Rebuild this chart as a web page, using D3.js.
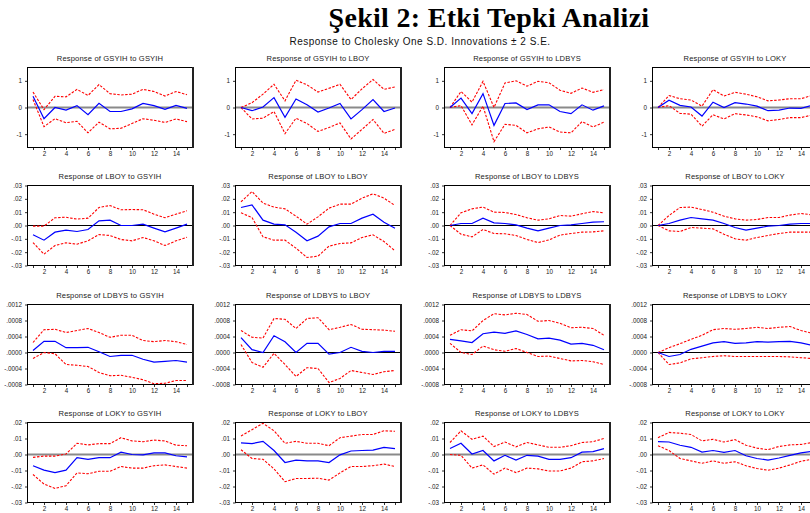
<!DOCTYPE html>
<html>
<head>
<meta charset="utf-8">
<script src="https://cdnjs.cloudflare.com/ajax/libs/d3/7.8.5/d3.min.js"></script>
<style>
  body { margin: 0; background: #fff; }
  svg { display: block; }
  .mainTitle { font-family: "Liberation Serif", "DejaVu Serif", serif; font-weight: bold; font-size: 28px; letter-spacing: 0.3px; fill: #000; }
  .subTitle { font-family: Arial, "Liberation Sans", sans-serif; font-size: 10px; letter-spacing: 0.5px; fill: #111; }
  .panelTitle { font-family: Arial, "Liberation Sans", sans-serif; font-size: 7.6px; letter-spacing: 0.15px; fill: #222; }
  .tick text { font-family: Arial, "Liberation Sans", sans-serif; font-size: 6.3px; fill: #222; }
</style>
</head>
<body>
<svg width="810" height="513"></svg>
<script>
const variables = ['GSYIH', 'LBOY', 'LDBYS', 'LOKY'];
const periods = [1, 2, 3, 4, 5, 6, 7, 8, 9, 10, 11, 12, 13, 14, 15];
const xTickLabels = [2, 4, 6, 8, 10, 12, 14];

// y ticks for each response row
const gsyihTicks = [-1, 0, 1];
const gsyihTickLabels = ['-1', '0', '1'];
const lboyTicks = [-0.03, -0.02, -0.01, 0, 0.01, 0.02, 0.03];
const lboyTickLabels = ['-.03', '-.02', '-.01', '.00', '.01', '.02', '.03'];
const ldbysTicks = [-0.0008, -0.0004, 0, 0.0004, 0.0008, 0.0012];
const ldbysTickLabels = ['-.0008', '-.0004', '.0000', '.0004', '.0008', '.0012'];
const lokyTicks = [-0.03, -0.02, -0.01, 0, 0.01, 0.02];
const lokyTickLabels = ['-.03', '-.02', '-.01', '.00', '.01', '.02'];

// Response of GSYIH to GSYIH, LBOY, LDBYS, LOKY
const gsyihResp = [
  [0.42, -0.42, 0.0, -0.1, 0.07, -0.27, 0.16, -0.15, -0.15, -0.05, 0.15, 0.07, -0.07, 0.08, -0.03],
  [0, -0.12, 0.02, 0.37, -0.37, 0.32, 0.1, -0.17, -0.02, 0.15, -0.43, -0.08, 0.3, -0.15, -0.02],
  [0, 0.35, -0.23, 0.52, -0.67, 0.15, 0.17, -0.08, 0.1, 0.1, -0.15, -0.23, 0.1, -0.1, 0.06],
  [0, 0.27, 0.08, 0.02, -0.32, 0.2, 0.0, 0.18, 0.13, 0.05, -0.12, -0.1, -0.02, -0.03, 0.08]
];
const gsyihUpper = [
  [0.58, -0.08, 0.42, 0.4, 0.68, 0.45, 0.86, 0.52, 0.47, 0.5, 0.68, 0.6, 0.43, 0.6, 0.48],
  [0, 0.18, 0.5, 0.87, 0.25, 1.02, 0.85, 0.58, 0.72, 0.87, 0.3, 0.7, 1.05, 0.68, 0.77],
  [0, 0.6, 0.2, 0.98, 0.0, 0.92, 1.0, 0.8, 0.98, 0.93, 0.65, 0.53, 0.73, 0.57, 0.67],
  [0, 0.45, 0.33, 0.28, 0.05, 0.67, 0.43, 0.57, 0.5, 0.4, 0.25, 0.28, 0.33, 0.33, 0.45]
];
const gsyihLower = [
  [0.3, -0.72, -0.42, -0.57, -0.52, -0.95, -0.55, -0.8, -0.78, -0.6, -0.42, -0.48, -0.56, -0.43, -0.53],
  [0, -0.43, -0.4, -0.15, -0.98, -0.4, -0.6, -0.9, -0.75, -0.58, -1.18, -0.82, -0.45, -0.97, -0.82],
  [0, 0.07, -0.65, 0.05, -1.28, -0.63, -0.67, -0.95, -0.8, -0.73, -0.92, -0.95, -0.53, -0.73, -0.55],
  [0, 0.07, -0.22, -0.25, -0.7, -0.27, -0.43, -0.23, -0.28, -0.35, -0.5, -0.45, -0.38, -0.38, -0.28]
];

// Response of LBOY
const lboyResp = [
  [-0.007, -0.011, -0.005, -0.0035, -0.0045, -0.003, 0.0035, 0.004, 0.0, 0.0, 0.001, -0.002, -0.0048, -0.002, 0.001],
  [0.0135, 0.0155, 0.004, 0.001, 0.0005, -0.005, -0.0115, -0.008, -0.001, 0.0015, 0.0015, 0.0055, 0.0085, 0.0025, -0.002],
  [0, 0.0015, 0.0015, 0.0055, 0.002, 0.0015, 0.0005, -0.002, -0.004, -0.002, 0.0, 0.0005, 0.0015, 0.0025, 0.0028],
  [0, 0.0015, 0.004, 0.006, 0.005, 0.004, 0.0015, -0.0015, -0.0035, -0.002, -0.0005, 0.0, 0.001, 0.0015, 0.0015]
];
const lboyUpper = [
  [-0.0005, -0.0005, 0.0058, 0.0062, 0.0048, 0.0055, 0.0135, 0.015, 0.0118, 0.012, 0.0118, 0.0085, 0.0058, 0.0085, 0.011],
  [0.0178, 0.0255, 0.0168, 0.0138, 0.0125, 0.007, 0.001, 0.0065, 0.013, 0.016, 0.016, 0.0205, 0.0238, 0.0205, 0.015],
  [0, 0.0095, 0.0125, 0.0138, 0.01, 0.0098, 0.0082, 0.0058, 0.004, 0.005, 0.0075, 0.007, 0.0088, 0.0105, 0.0095],
  [0, 0.0075, 0.0135, 0.0138, 0.012, 0.01, 0.007, 0.005, 0.004, 0.0045, 0.006, 0.006, 0.0078, 0.009, 0.008]
];
const lboyLower = [
  [-0.0128, -0.0215, -0.015, -0.013, -0.014, -0.0115, -0.0068, -0.0075, -0.0105, -0.0115, -0.009, -0.0115, -0.015, -0.0115, -0.0088],
  [0.0095, 0.006, -0.0085, -0.011, -0.011, -0.017, -0.024, -0.023, -0.0155, -0.0135, -0.013, -0.009, -0.007, -0.012, -0.019],
  [0, -0.0065, -0.0085, -0.003, -0.006, -0.0062, -0.0075, -0.0105, -0.0128, -0.0108, -0.0072, -0.006, -0.005, -0.0048, -0.004],
  [0, -0.004, -0.0045, -0.0015, -0.002, -0.0025, -0.0065, -0.01, -0.011, -0.009, -0.0075, -0.006, -0.005, -0.005, -0.005]
];

// Response of LDBYS
const ldbysResp = [
  [0.00005, 0.00028, 0.00028, 0.00012, 0.00012, 0.00013, 0.00002, -0.0001, -0.00007, -0.00007, -0.00017, -0.00024, -0.00022, -0.0002, -0.00024],
  [0.00037, 0.00007, 0.0, 0.00042, 0.00027, 0.0, 0.00023, 0.00023, -0.00004, 0.0, 0.00013, 0.00003, 0.0, 0.00003, 0.00003],
  [0.00033, 0.00029, 0.00025, 0.00047, 0.00051, 0.00048, 0.00054, 0.00045, 0.00034, 0.00036, 0.00031, 0.00021, 0.00023, 0.00018, 0.00007],
  [0, -0.0001, -0.00005, 0.00008, 0.00016, 0.00024, 0.00027, 0.00023, 0.00024, 0.00027, 0.00026, 0.00027, 0.00028, 0.00024, 0.00018]
];
const ldbysUpper = [
  [0.00025, 0.00057, 0.00058, 0.0005, 0.00055, 0.0006, 0.0005, 0.00038, 0.00043, 0.00043, 0.0003, 0.00027, 0.0003, 0.00027, 0.0002],
  [0.00055, 0.00038, 0.00036, 0.00085, 0.00083, 0.0006, 0.00085, 0.00087, 0.00057, 0.00063, 0.0007, 0.00058, 0.00057, 0.00056, 0.00053],
  [0.00043, 0.00057, 0.00054, 0.0008, 0.00097, 0.00094, 0.00098, 0.00095, 0.00078, 0.0008, 0.00073, 0.00062, 0.00063, 0.0006, 0.00043],
  [0, 0.00012, 0.00022, 0.00033, 0.00043, 0.00057, 0.0006, 0.00058, 0.0006, 0.00063, 0.0006, 0.00063, 0.00065, 0.00055, 0.00048]
];
const ldbysLower = [
  [-0.00015, 0.0, -0.00003, -0.0003, -0.00032, -0.00035, -0.0005, -0.00058, -0.00057, -0.00062, -0.00068, -0.00078, -0.00077, -0.0007, -0.0007],
  [0.0002, -0.00025, -0.00037, -0.00002, -0.0003, -0.0006, -0.00038, -0.0004, -0.00075, -0.00065, -0.00045, -0.0005, -0.00055, -0.00048, -0.00045],
  [0.00023, 0.0, -0.00005, 0.00016, 0.00007, 0.00003, 0.0001, 0.0, -0.0001, -0.00009, -0.00015, -0.00021, -0.0002, -0.00023, -0.0003],
  [0, -0.0003, -0.00026, -0.00016, -0.00013, -0.0001, -0.00008, -0.0001, -0.0001, -0.0001, -0.0001, -0.0001, -0.00011, -0.00013, -0.00015]
];

// Response of LOKY
const lokyResp = [
  [-0.007, -0.0098, -0.0113, -0.0098, -0.002, -0.003, -0.002, -0.002, 0.0015, 0.0, -0.0002, 0.001, 0.001, -0.0008, -0.0015],
  [0.0073, 0.0068, 0.0082, 0.0025, -0.005, -0.0035, -0.004, -0.004, -0.005, -0.0002, 0.0022, 0.0025, 0.0027, 0.0045, 0.0037],
  [0.0038, 0.007, 0.0003, 0.0025, -0.004, -0.0005, -0.0035, -0.0005, -0.001, -0.003, -0.003, -0.002, 0.0015, 0.0018, 0.0037],
  [0.008, 0.0078, 0.0058, 0.0045, 0.0015, 0.0025, 0.0013, 0.0025, -0.0008, -0.0025, -0.0035, -0.0022, -0.0005, 0.001, 0.002]
];
const lokyUpper = [
  [-0.0018, -0.001, -0.001, 0.0003, 0.007, 0.006, 0.0068, 0.0068, 0.0105, 0.0085, 0.008, 0.009, 0.0085, 0.0058, 0.0055],
  [0.0115, 0.0155, 0.0195, 0.0148, 0.007, 0.0082, 0.007, 0.007, 0.0055, 0.0105, 0.0115, 0.0125, 0.0125, 0.0148, 0.0145],
  [0.0075, 0.0148, 0.0095, 0.0115, 0.005, 0.0078, 0.0048, 0.0075, 0.006, 0.0045, 0.0045, 0.0055, 0.0075, 0.008, 0.01],
  [0.0105, 0.0138, 0.0133, 0.0125, 0.0085, 0.0095, 0.0078, 0.0093, 0.0058, 0.004, 0.003, 0.005, 0.006, 0.0063, 0.0075]
];
const lokyLower = [
  [-0.0125, -0.0185, -0.0212, -0.0195, -0.0115, -0.012, -0.0105, -0.0105, -0.0075, -0.0085, -0.0085, -0.007, -0.0065, -0.0075, -0.0085],
  [0.003, -0.0025, -0.003, -0.009, -0.017, -0.015, -0.015, -0.0148, -0.016, -0.0115, -0.0075, -0.0075, -0.007, -0.006, -0.0075],
  [0.0, -0.0005, -0.0085, -0.0065, -0.0123, -0.0085, -0.0113, -0.0085, -0.009, -0.0103, -0.0103, -0.0085, -0.0045, -0.004, -0.0025],
  [0.0055, 0.0025, -0.0025, -0.004, -0.0055, -0.004, -0.0055, -0.0045, -0.007, -0.0088, -0.0098, -0.0085, -0.0065, -0.0042, -0.003]
];

// one entry per response row
const rows = [
  { ticks: gsyihTicks, labels: gsyihTickLabels, mid: gsyihResp, hi: gsyihUpper, lo: gsyihLower, domain: [-1.5, 1.5], zero: 'gray' },
  { ticks: lboyTicks, labels: lboyTickLabels, mid: lboyResp, hi: lboyUpper, lo: lboyLower, domain: [-0.03, 0.03], zero: 'black' },
  { ticks: ldbysTicks, labels: ldbysTickLabels, mid: ldbysResp, hi: ldbysUpper, lo: ldbysLower, domain: [-0.0008, 0.0012], zero: 'black' },
  { ticks: lokyTicks, labels: lokyTickLabels, mid: lokyResp, hi: lokyUpper, lo: lokyLower, domain: [-0.03, 0.02], zero: 'gray' }
];

const panelW = 165;
const panelH = 80;
const colStep = 208.3;
const rowStep = 118.4;

const svg = d3.select('svg');

svg.append('text')
  .attr('class', 'mainTitle')
  .attr('x', 489)
  .attr('y', 27)
  .attr('text-anchor', 'middle')
  .text('Şekil 2: Etki Tepki Analizi');

svg.append('text')
  .attr('class', 'subTitle')
  .attr('x', 420)
  .attr('y', 45)
  .attr('text-anchor', 'middle')
  .text('Response to Cholesky One S.D. Innovations ± 2 S.E.');

const x = d3.scaleLinear().domain([0.5, 15.5]).range([0, panelW]);

rows.forEach((row, r) => {
  const y = d3.scaleLinear().domain(row.domain).range([panelH, 0]);

  variables.forEach((shock, c) => {
    const left = Math.round(27 + c * colStep);
    const top = Math.round(67 + r * rowStep);
    const g = svg.append('g').attr('transform', `translate(${left + 0.5},${top + 0.5})`);

    g.append('text')
      .attr('class', 'panelTitle')
      .attr('x', panelW / 2)
      .attr('y', -7)
      .attr('text-anchor', 'middle')
      .text(`Response of ${variables[r]} to ${shock}`);

    //x axis: tick at every period, label every second one
    const xAxis = g.append('g')
      .attr('transform', `translate(0,${panelH})`)
      .call(d3.axisBottom(x)
        .tickValues(periods)
        .tickSize(2.5)
        .tickPadding(2)
        .tickFormat(d => xTickLabels.includes(d) ? d : ''));
    xAxis.select('.domain').remove();
    xAxis.selectAll('line').attr('stroke', '#333');

    const yAxis = g.append('g')
      .call(d3.axisLeft(y)
        .tickValues(row.ticks)
        .tickSize(2.5)
        .tickPadding(3)
        .tickFormat((d, i) => row.labels[i]));
    yAxis.select('.domain').remove();
    yAxis.selectAll('line').attr('stroke', '#333');

    g.append('line')
      .attr('x1', 0)
      .attr('x2', panelW)
      .attr('y1', y(0))
      .attr('y2', y(0))
      .attr('stroke', row.zero === 'gray' ? '#8a8a8a' : '#000')
      .attr('stroke-width', row.zero === 'gray' ? 2.2 : 1);

    const line = d3.line()
      .x((d, i) => x(periods[i]))
      .y(d => y(d));

    [row.hi[c], row.lo[c]].forEach(band => {
      g.append('path')
        .datum(band)
        .attr('d', line)
        .attr('fill', 'none')
        .attr('stroke', '#ff0000')
        .attr('stroke-width', 1.1)
        .attr('stroke-dasharray', '2.5,1.5');
    });

    g.append('path')
      .datum(row.mid[c])
      .attr('d', line)
      .attr('fill', 'none')
      .attr('stroke', '#0000ff')
      .attr('stroke-width', 1.2);

    g.append('rect')
      .attr('width', panelW)
      .attr('height', panelH)
      .attr('fill', 'none')
      .attr('stroke', '#000')
      .attr('stroke-width', 1);

    // right edge of the frame is heavier
    g.append('line')
      .attr('x1', panelW + 0.5)
      .attr('x2', panelW + 0.5)
      .attr('y1', -0.5)
      .attr('y2', panelH + 0.5)
      .attr('stroke', '#222')
      .attr('stroke-width', 2);
  });
});
</script>
</body>
</html>
